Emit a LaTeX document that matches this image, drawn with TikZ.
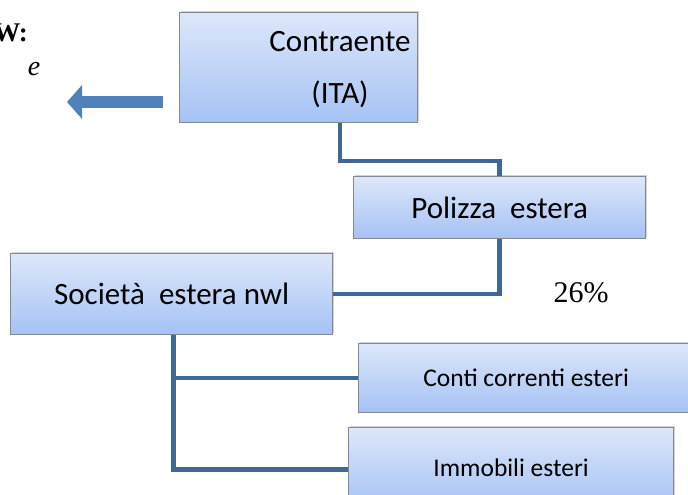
\documentclass[tikz,border=0pt]{standalone}
\usepackage{fontspec}
\setmainfont{Liberation Serif}
\newfontfamily\boxfont{Carlito}
\usetikzlibrary{arrows.meta,shadows}

\definecolor{boxtop}{HTML}{DDE7FA}
\definecolor{boxbottom}{HTML}{A5C2F4}
\definecolor{boxborder}{HTML}{85898F}
\definecolor{linkblue}{HTML}{3F6797}
\definecolor{arrowblue}{HTML}{4F81BD}

\tikzset{
  boxnode/.style={rectangle, draw=boxborder, line width=1.2pt,
    top color=boxtop, bottom color=boxbottom, anchor=north west,
    drop shadow={shadow xshift=1.5pt, shadow yshift=1.5pt, opacity=0.35}},
  boxtext/.style={font=\boxfont\fontsize{31}{36}\selectfont},
  smalltext/.style={font=\boxfont\fontsize{25.5}{30}\selectfont},
  link/.style={draw=linkblue, line width=4.5pt, line join=miter}
}

\begin{document}
\begin{tikzpicture}[x=1pt, y=-1pt]
\useasboundingbox (0,0) rectangle (688,495);

% Left side texts and arrow
\node[anchor=east, inner sep=0pt, font=\bfseries\fontsize{27}{30}\selectfont] (wlabel) at (28,33) {W:};
\node[inner sep=0pt, font=\itshape\fontsize{28}{30}\selectfont] (elabel) at (34,69) {e};
\coordinate (arrstart) at (163,102);
\coordinate (arrtip) at (67,102);
\draw[arrowblue, line width=12pt, -{Triangle[length=15pt, width=33pt]}] (arrstart) -- (arrtip);

% Boxes
\node[boxnode, minimum width=238pt, minimum height=110pt] (contr) at (179,12) {};
\node[boxtext, align=center] (contrtext) at (340,70) {Contraente\\[16pt](ITA)};
\node[boxnode, boxtext, minimum width=292pt, minimum height=62pt] (polz) at (353,176) {Polizza\ \ estera};
\node[boxnode, boxtext, minimum width=322pt, minimum height=81pt] (soc) at (10,253) {Società\ \ estera nwl};
\node[boxnode, smalltext, minimum width=335pt, minimum height=69pt] (conti) at (358,343) {Conti correnti esteri};
\node[boxnode, smalltext, minimum width=325pt, minimum height=80pt] (immo) at (348,427) {Immobili esteri};

% Percentage
\node[font=\fontsize{30}{34}\selectfont] (perc) at (581,293) {26\%};

% Connectors
\draw[link] (contr.south -| contrtext) -- ++(0,38) -| (polz.north);
\draw[link] (polz.south) |- (soc.east);
\draw[link] ([xshift=2pt]soc.south) |- (conti.west);
\draw[link] ([xshift=2pt]soc.south) |- ([yshift=-2pt]immo.west);

\end{tikzpicture}
\end{document}
